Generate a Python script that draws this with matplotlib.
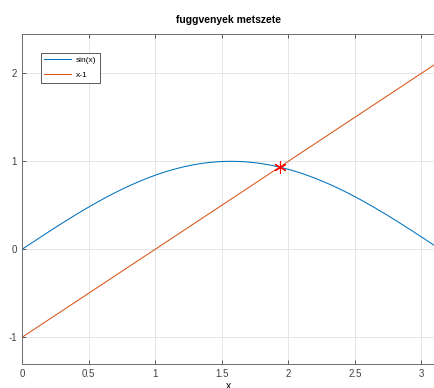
import numpy as np
import matplotlib
matplotlib.use('Agg')
import matplotlib.pyplot as plt

# x grid and the two functions
x = np.arange(0, 3.1001, 0.01)
sin_vals = np.sin(x)
line_vals = x - 1

# intersection of sin(x) and x-1
x_cross = 1.9346
y_cross = 0.9346

x_ticks = [0, 0.5, 1, 1.5, 2, 2.5, 3]
x_tick_labels = ['0', '0.5', '1', '1.5', '2', '2.5', '3']
y_ticks = [-1, 0, 1, 2]
y_tick_labels = ['-1', '0', '1', '2']

plt.rcParams['font.family'] = ['Liberation Sans', 'DejaVu Sans']

fig = plt.figure(figsize=(4.34, 3.88), dpi=100)
ax = fig.add_axes([0.0507, 0.0626, 0.951, 0.8505])

ax.plot(x, sin_vals, color='#0072BD', lw=0.75, label='sin(x)')
ax.plot(x, line_vals, color='#D95319', lw=0.75, label='x-1')
# asterisk marker at the crossing point
ax.plot([x_cross], [y_cross], marker=(6, 2, 0), color='#FF0000', markersize=9,
        linestyle='none', markeredgewidth=0.8)

ax.set_xlim(0, 3.1)
ax.set_ylim(-1.3, 2.45)
ax.set_xticks(x_ticks)
ax.set_xticklabels(x_tick_labels)
ax.set_yticks(y_ticks)
ax.set_yticklabels(y_tick_labels)
ax.grid(True, color='#e6e6e6', lw=0.7)
ax.set_axisbelow(True)
ax.tick_params(direction='in', length=3, width=0.6, labelsize=7, colors='#404040',
               top=True, right=False)
for s in ax.spines.values():
    s.set_color('#6e6e6e')
    s.set_linewidth(0.7)
ax.spines['right'].set_visible(False)

ax.set_title('fuggvenyek metszete', fontsize=7.5, fontweight='bold', pad=8)
ax.set_xlabel('x', fontsize=7.5, labelpad=2)

leg = ax.legend(loc='upper left', bbox_to_anchor=(0.035, 0.955), fontsize=6,
                fancybox=False, edgecolor='#404040', framealpha=1,
                handlelength=3.2, handletextpad=0.6, borderpad=0.45,
                labelspacing=0.8)
leg.get_frame().set_linewidth(0.6)

fig.savefig('out.png', dpi=100)
